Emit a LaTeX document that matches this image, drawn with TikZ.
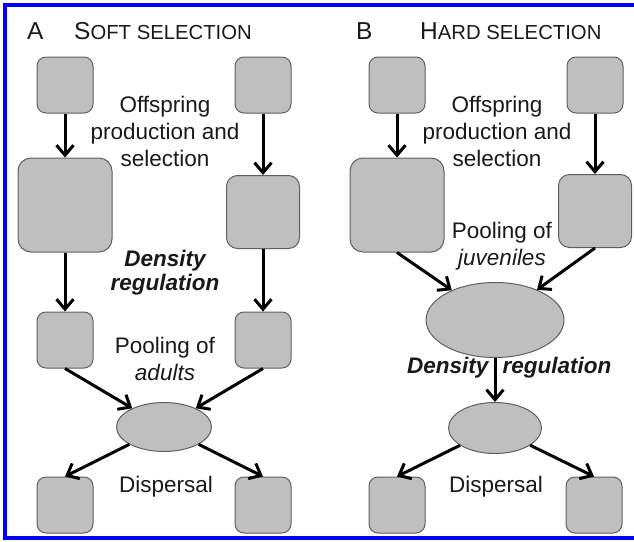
\documentclass[tikz,border=0pt]{standalone}
\usepackage{fontspec}
\setmainfont{Liberation Sans}
\usetikzlibrary{shapes,arrows.meta,positioning}
\definecolor{boxgray}{RGB}{191,191,191}
\definecolor{edgegray}{RGB}{95,95,95}
\definecolor{frameblue}{RGB}{0,0,255}

\begin{document}
\begin{tikzpicture}[x=1pt, y=-1pt,
    site/.style={draw=edgegray, fill=boxgray, line width=1pt, rounded corners=9pt, minimum size=56pt, inner sep=0pt},
    pool/.style={ellipse, draw=edgegray, fill=boxgray, line width=1pt, inner sep=0pt},
    flow/.style={-{Straight Barb[length=10pt, width=17pt]}, line width=3pt},
    txt/.style={align=center, inner sep=0pt, text=black!90, font=\fontsize{22.5}{27}\selectfont},
    panel/.style={anchor=west, inner sep=0pt, text=black!90}]
    \useasboundingbox (0,0) rectangle (634,541);
    % Frame (open at the right)
    \draw[frameblue, line width=4pt] (634,5) -- (5,5) -- (5,538) -- (634,538);

    % Panel titles
    \node[panel, font=\fontsize{24.5}{24}\selectfont] (labA) at (27,31) {A};
    \node[panel] (titleA) at (74,31) {{\fontsize{24.5}{24}\selectfont S}{\fontsize{20.3}{19}\selectfont OFT SELECTION}};
    \node[panel, font=\fontsize{24.5}{24}\selectfont] (labB) at (356,31) {B};
    \node[panel] (titleB) at (420,31) {{\fontsize{24.5}{24}\selectfont H}{\fontsize{20.3}{19}\selectfont ARD SELECTION}};

    % Soft selection - patches
    \node[site] (a1) at (65,85) {};
    \node[site] (a2) at (263,85) {};
    \node[site, minimum size=94pt, rounded corners=13pt] (a3) at (65,205) {};
    \node[site, minimum size=73pt, rounded corners=11pt] (a4) at (263,212) {};
    \node[site] (a5) at (65,340) {};
    \node[site] (a6) at (263,340) {};
    \node[pool, minimum width=95pt, minimum height=49pt] (apool) at (164,427) {};
    \node[site] (a7) at (65,505) {};
    \node[site] (a8) at (263,505) {};

    % Soft selection - labels
    \node[txt] (aoff) at (165,131) {Offspring\\production and\\selection};
    \node[txt, font=\fontsize{22.5}{24}\selectfont\bfseries\itshape] (adens) at (165,273) {Density\\regulation};
    \node[txt] (apooling) at (165,359) {Pooling of\\\textit{adults}};
    \node[txt] (adisp) at (166,487) {Dispersal};

    % Soft selection - arrows
    \draw[flow] (a1) -- (a3);
    \draw[flow] (a2) -- (a4);
    \draw[flow] (a3) -- (a5);
    \draw[flow] (a4) -- (a6);
    \draw[flow] (a5.south) -- (apool);
    \draw[flow] (a6.south) -- (apool);
    \draw[flow] (apool) -- (a7.north);
    \draw[flow] (apool) -- (a8.north);

    % Hard selection - patches
    \node[site] (b1) at (397,85) {};
    \node[site] (b2) at (595,85) {};
    \node[site, minimum size=94pt, rounded corners=13pt] (b3) at (397,205) {};
    \node[site, minimum size=73pt, rounded corners=11pt] (b4) at (595,211) {};
    \node[pool, minimum width=138pt, minimum height=75pt] (bpool) at (495,320) {};
    \node[pool, minimum width=93pt, minimum height=51pt] (breg) at (495,428) {};
    \node[site] (b5) at (397,505) {};
    \node[site] (b6) at (594,505) {};

    % Hard selection - labels
    \node[txt] (boff) at (497,131) {Offspring\\production and\\selection};
    \node[txt] (bpooling) at (502,246) {Pooling of\\\textit{juveniles}};
    \node[txt] (bdisp) at (496,487) {Dispersal};

    % Hard selection - arrows
    \draw[flow] (b1) -- (b3);
    \draw[flow] (b2) -- (b4);
    \draw[flow] (b3.south) -- (bpool);
    \draw[flow] (b4.south) -- (bpool);
    \draw[flow] (bpool) --
        node[pos=0.22, left=5pt, txt, font=\fontsize{22.5}{24}\selectfont\bfseries\itshape] (bdens) {Density}
        node[pos=0.22, right=6pt, txt, font=\fontsize{22.5}{24}\selectfont\bfseries\itshape] (bregl) {regulation}
        (breg);
    \draw[flow] (breg) -- (b5.north);
    \draw[flow] (breg) -- (b6.north);
\end{tikzpicture}
\end{document}
